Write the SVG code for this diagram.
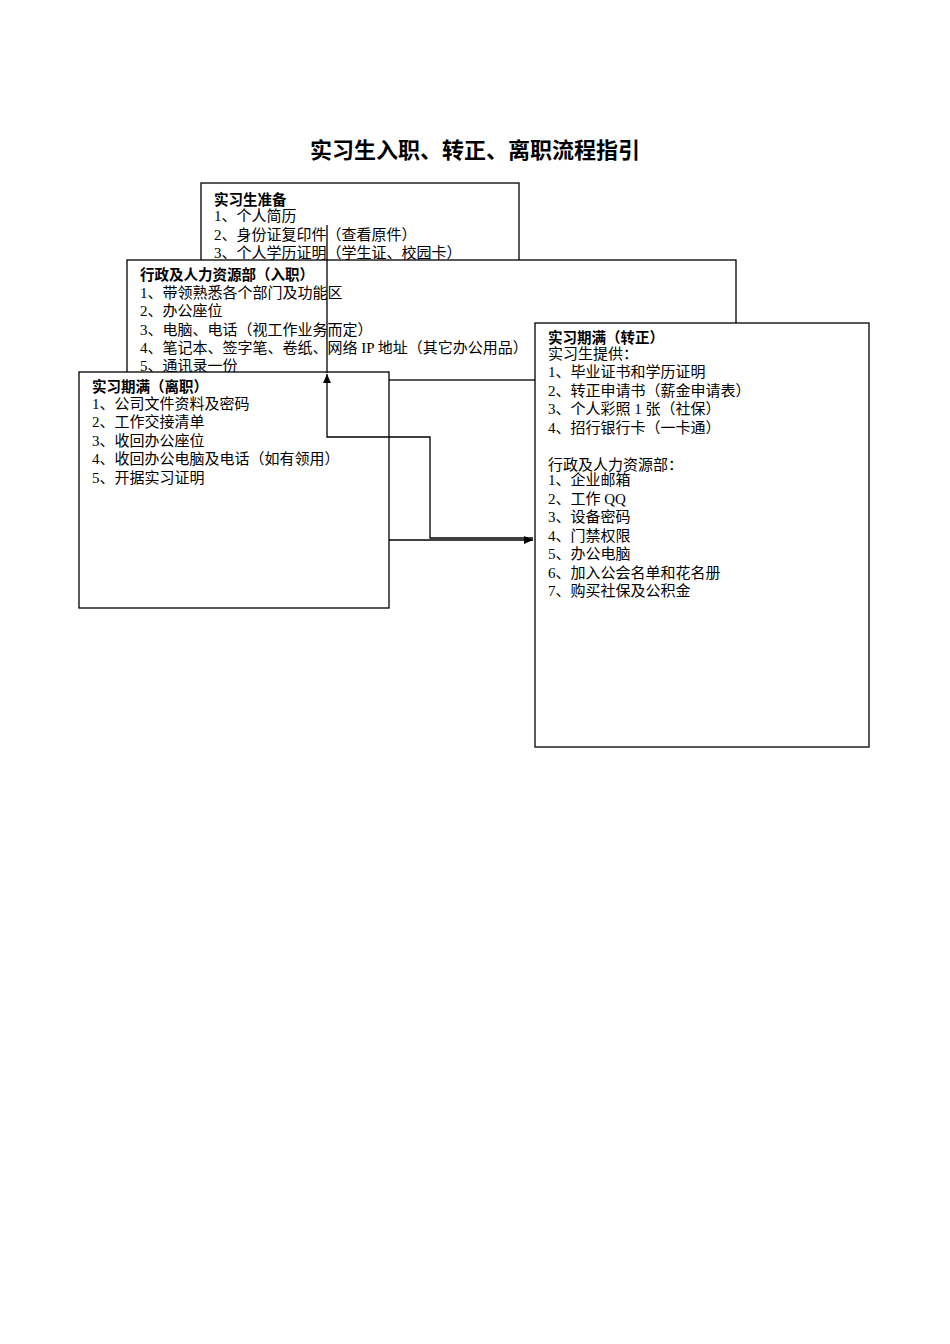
<svg xmlns="http://www.w3.org/2000/svg" width="950" height="1344" viewBox="0 0 950 1344">
<style>
.b{fill:#fff;stroke:#000;stroke-width:1.3}
text{font-family:"Liberation Serif","Noto Sans CJK SC",serif;font-size:15px;fill:#000}
.h{font-family:"Noto Sans CJK SC",sans-serif;font-weight:bold;font-size:14.5px}
.c{fill:none;stroke:#000;stroke-width:1.3}
</style>
<defs><marker id="a" markerWidth="10" markerHeight="10" refX="9" refY="5" orient="auto" markerUnits="userSpaceOnUse"><path d="M0,1 L9,5 L0,9 Z" fill="#000"/></marker></defs>
<rect width="950" height="1344" fill="#fff"/>
<text x="475" y="158" text-anchor="middle" class="h" style="font-size:22px">实习生入职、转正、离职流程指引</text>
<g id="n1"><rect class="b" x="201" y="183" width="318" height="90"/>
<text x="214" y="205" class="h">实习生准备</text>
<text x="214" y="221">1、个人简历</text><text x="214" y="240">2、身份证复印件（查看原件）</text><text x="214" y="258">3、个人学历证明（学生证、校园卡）</text></g>
<g id="n2"><rect class="b" x="127" y="260" width="609" height="120"/>
<text x="140" y="280" class="h">行政及人力资源部（入职）</text>
<text x="140" y="298">1、带领熟悉各个部门及功能区</text><text x="140" y="316">2、办公座位</text><text x="140" y="335">3、电脑、电话（视工作业务而定）</text><text x="140" y="353">4、笔记本、签字笔、卷纸、网络 IP 地址（其它办公用品）</text><text x="140" y="371">5、通讯录一份</text></g>
<g id="n3"><rect class="b" x="79" y="372" width="310" height="236"/>
<text x="92" y="392" class="h">实习期满（离职）</text>
<text x="92" y="409">1、公司文件资料及密码</text><text x="92" y="427">2、工作交接清单</text><text x="92" y="446">3、收回办公座位</text><text x="92" y="464">4、收回办公电脑及电话（如有领用）</text><text x="92" y="483">5、开据实习证明</text></g>
<g id="n4"><rect class="b" x="535" y="323" width="334" height="424"/>
<text x="548" y="343" class="h">实习期满（转正）</text>
<text x="548" y="359">实习生提供：</text><text x="548" y="377">1、毕业证书和学历证明</text><text x="548" y="396">2、转正申请书（薪金申请表）</text><text x="548" y="414">3、个人彩照 1 张（社保）</text><text x="548" y="433">4、招行银行卡（一卡通）</text>
<text x="548" y="470">行政及人力资源部：</text><text x="548" y="485">1、企业邮箱</text><text x="548" y="504">2、工作 QQ</text><text x="548" y="522">3、设备密码</text><text x="548" y="541">4、门禁权限</text><text x="548" y="559">5、办公电脑</text><text x="548" y="578">6、加入公会名单和花名册</text><text x="548" y="596">7、购买社保及公积金</text></g>
<g id="connectors">
<line class="c" x1="327" y1="225" x2="327" y2="373"/>
<polyline class="c" points="533,538 430,538 430,437 327,437 327,374" marker-end="url(#a)"/>
<line class="c" x1="389" y1="540" x2="533" y2="540" marker-end="url(#a)"/>
</g>
</svg>
